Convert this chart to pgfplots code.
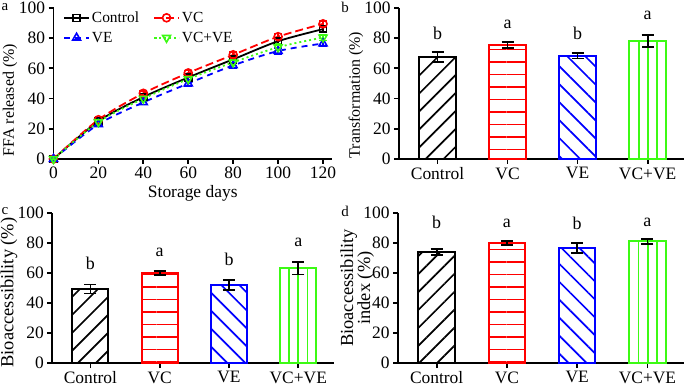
\documentclass[border=0pt]{standalone}
\usepackage{fontspec}
\setmainfont{Liberation Serif}
\usepackage{pgfplots}
\pgfplotsset{compat=1.18}
\usetikzlibrary{patterns.meta}
\definecolor{cred}{RGB}{255,0,0}
\definecolor{cblue}{RGB}{0,0,255}
\definecolor{cgreen}{RGB}{60,250,20}

\pgfplotstableread{
x y e
0 0 0.5
20 25 1.5
40 41 1.5
60 54 1.5
80 66 2
100 78 2
120 86 2
}\ctl
\pgfplotstableread{
x y e
0 0 0.5
20 26 1.5
40 43.5 1.5
60 57 1.5
80 69 2
100 81 2
120 89.5 2
}\vc
\pgfplotstableread{
x y e
0 0 0.5
20 23 1.5
40 37.5 1.5
60 50 1.5
80 62 2
100 71.5 2
120 76.5 2
}\ve
\pgfplotstableread{
x y e
0 0 0.5
20 24.5 1.5
40 40 1.5
60 53 1.5
80 64 2
100 74 2
120 80.5 2
}\vcve

\tikzset{lett/.style={anchor=base, font=\fontsize{18}{18}\selectfont}}
\pgfplotsset{
  base/.style={
    scale only axis,
    axis lines*=left,
    axis line style={line width=1.8bp},
    tick align=outside,
    major tick length=5bp,
    tick style={line width=1.8bp, black},
    tick label style={font=\fontsize{17.5}{18}\selectfont},
    /pgf/number format/assume math mode=true,
    ymin=0, ymax=100, ytick={0,20,...,100},
    clip=false,
  },
  barax/.style={base, xmin=-0.55, xmax=3.52, xtick={0,1,2,3},
    xticklabels={Control,VC,VE,VC+VE}},
  errs/.style={error bars/.cd, y dir=both, y explicit,
    error bar style={line width=1.8bp, black},
    error mark options={rotate=90, mark size=6bp, line width=1.8bp, black}},
  bctl/.style={ybar, bar width=0.52, draw=black, line width=2bp,
    pattern={Lines[angle=45,distance=12.7bp,line width=1.7bp]}, pattern color=black, errs},
  bvc/.style={ybar, bar width=0.52, draw=cred, line width=2bp,
    pattern={Lines[angle=0,distance=12.5bp,line width=1.8bp]}, pattern color=cred, errs},
  bve/.style={ybar, bar width=0.52, draw=cblue, line width=2bp,
    pattern={Lines[angle=-45,distance=12.7bp,line width=1.7bp]}, pattern color=cblue, errs},
  bvcve/.style={ybar, bar width=0.52, draw=cgreen, line width=2bp,
    pattern={Lines[angle=90,distance=9.3bp,line width=1.7bp,xshift=#1]}, pattern color=cgreen, errs},
  myleg/.style={legend image code/.code={
    \draw[mark repeat=2,mark phase=2,##1] plot coordinates {(0bp,0bp) (12.5bp,0bp) (25bp,0bp)};}},
}

\begin{document}
\begin{tikzpicture}[x=1bp,y=1bp]
\useasboundingbox (0,0) rectangle (685,387);

% panel a
\begin{axis}[base, at={(53.5bp,228bp)}, anchor=south west,
  width=278.5bp, height=151bp,
  xmin=0, xmax=124, xtick={0,20,...,120},
  xticklabel style={inner sep=1bp, yshift=-1.5bp},
  xlabel={Storage days},
  xlabel style={at={(axis description cs:0.5,-0.225)}, anchor=center, inner sep=0pt, font=\fontsize{17.5}{18}\selectfont},
  ylabel={FFA released (\%)},
  ylabel style={at={(axis description cs:-0.156,0.39)}, anchor=center, font=\fontsize{16}{17}\selectfont},
  legend columns=2, legend cell align=left,
  legend style={draw=none, fill=none, at={(axis description cs:0.034,0.99)}, anchor=north west,
    inner sep=0pt, row sep=4bp, font=\fontsize{15.5}{16}\selectfont,
    /tikz/every even column/.append style={column sep=12bp}},
]
\addplot[myleg, black, line width=1.8bp, smooth, mark=square, mark size=3.5bp,
  mark options={solid, line width=1.6bp},
  error bars/.cd, y dir=both, y explicit,
  error bar style={line width=1.5bp, black},
  error mark options={rotate=90, mark size=4bp, line width=1.5bp, black}]
  table[x=x, y=y, y error=e] {\ctl};
\addlegendentry{Control}
\addplot[myleg, cred, line width=1.8bp, smooth, dash pattern=on 8bp off 4bp, mark=o, mark size=4bp,
  mark options={solid, line width=1.6bp},
  error bars/.cd, y dir=both, y explicit,
  error bar style={line width=1.5bp, cred, solid},
  error mark options={rotate=90, mark size=4bp, line width=1.5bp, cred, solid}]
  table[x=x, y=y, y error=e] {\vc};
\addlegendentry{VC}
\addplot[myleg, cblue, line width=1.8bp, smooth, dash pattern=on 6bp off 5bp, mark=triangle, mark size=4.5bp,
  mark options={solid, line width=1.6bp},
  error bars/.cd, y dir=both, y explicit,
  error bar style={line width=1.5bp, cblue, solid},
  error mark options={rotate=90, mark size=4bp, line width=1.5bp, cblue, solid}]
  table[x=x, y=y, y error=e] {\ve};
\addlegendentry{VE}
\addplot[myleg, cgreen, line width=1.8bp, smooth, dash pattern=on 2bp off 3bp, mark=triangle, mark size=4.5bp,
  mark options={solid, rotate=180, line width=1.6bp},
  error bars/.cd, y dir=both, y explicit,
  error bar style={line width=1.5bp, cgreen, solid},
  error mark options={rotate=90, mark size=4bp, line width=1.5bp, cgreen, solid}]
  table[x=x, y=y, y error=e] {\vcve};
\addlegendentry{VC+VE}
\end{axis}

% panel b
\begin{axis}[barax, at={(399bp,228bp)}, anchor=south west,
  width=285bp, height=151bp,
  ylabel={Transformation (\%)},
  ylabel style={at={(axis description cs:-0.151,0.424)}, anchor=center, font=\fontsize{16}{17}\selectfont},
]
\addplot[bctl] coordinates {(0,67.3) +- (0,3.3)};
\addplot[bvc] coordinates {(1,75.5) +- (0,1.9)};
\addplot[bve] coordinates {(2,68.4) +- (0,1.9)};
\addplot[bvcve=6.3bp] coordinates {(3,78) +- (0,3.9)};
\node[lett] at (axis cs:0,79) {b};
\node[lett] at (axis cs:1,86.7) {a};
\node[lett] at (axis cs:2,79) {b};
\node[lett] at (axis cs:3,92.2) {a};
\end{axis}

% panel c
\begin{axis}[barax, at={(52.3bp,24bp)}, anchor=south west,
  width=282bp, height=150bp,
  ylabel={Bioaccessibility (\%)},
  ylabel style={at={(axis description cs:-0.154,0.47)}, anchor=center, font=\fontsize{18.5}{19}\selectfont},
]
\addplot[bctl] coordinates {(0,49.3) +- (0,3)};
\addplot[bvc] coordinates {(1,60) +- (0,1.1)};
\addplot[bve] coordinates {(2,52.2) +- (0,3.4)};
\addplot[bvcve=0.7bp] coordinates {(3,63.1) +- (0,4.1)};
\node[lett] at (axis cs:0,62.2) {b};
\node[lett] at (axis cs:1,71.1) {a};
\node[lett] at (axis cs:2,65.1) {b};
\node[lett] at (axis cs:3,77.8) {a};
\end{axis}

% panel d
\begin{axis}[barax, at={(398bp,24bp)}, anchor=south west,
  width=286bp, height=150bp,
  ylabel={Bioaccessibility\\index (\%)},
  ylabel style={at={(axis description cs:-0.143,0.5)}, anchor=center, align=center, font=\fontsize{18.5}{17}\selectfont},
]
\addplot[bctl] coordinates {(0,73.8) +- (0,2)};
\addplot[bvc] coordinates {(1,80) +- (0,1.5)};
\addplot[bve] coordinates {(2,76.7) +- (0,3.3)};
\addplot[bvcve=6.2bp] coordinates {(3,81.1) +- (0,1.5)};
\node[lett] at (axis cs:0,90) {b};
\node[lett] at (axis cs:1,90.4) {a};
\node[lett] at (axis cs:2,88.9) {b};
\node[lett] at (axis cs:3,91.1) {a};
\end{axis}

\node[font=\fontsize{15}{15}\selectfont, anchor=center] at (5,380) {a};
\node[font=\fontsize{15}{15}\selectfont, anchor=center] at (345,380) {b};
\node[font=\fontsize{15}{15}\selectfont, anchor=center] at (5,176) {c};
\node[font=\fontsize{15}{15}\selectfont, anchor=center] at (345,176) {d};
\end{tikzpicture}
\end{document}
